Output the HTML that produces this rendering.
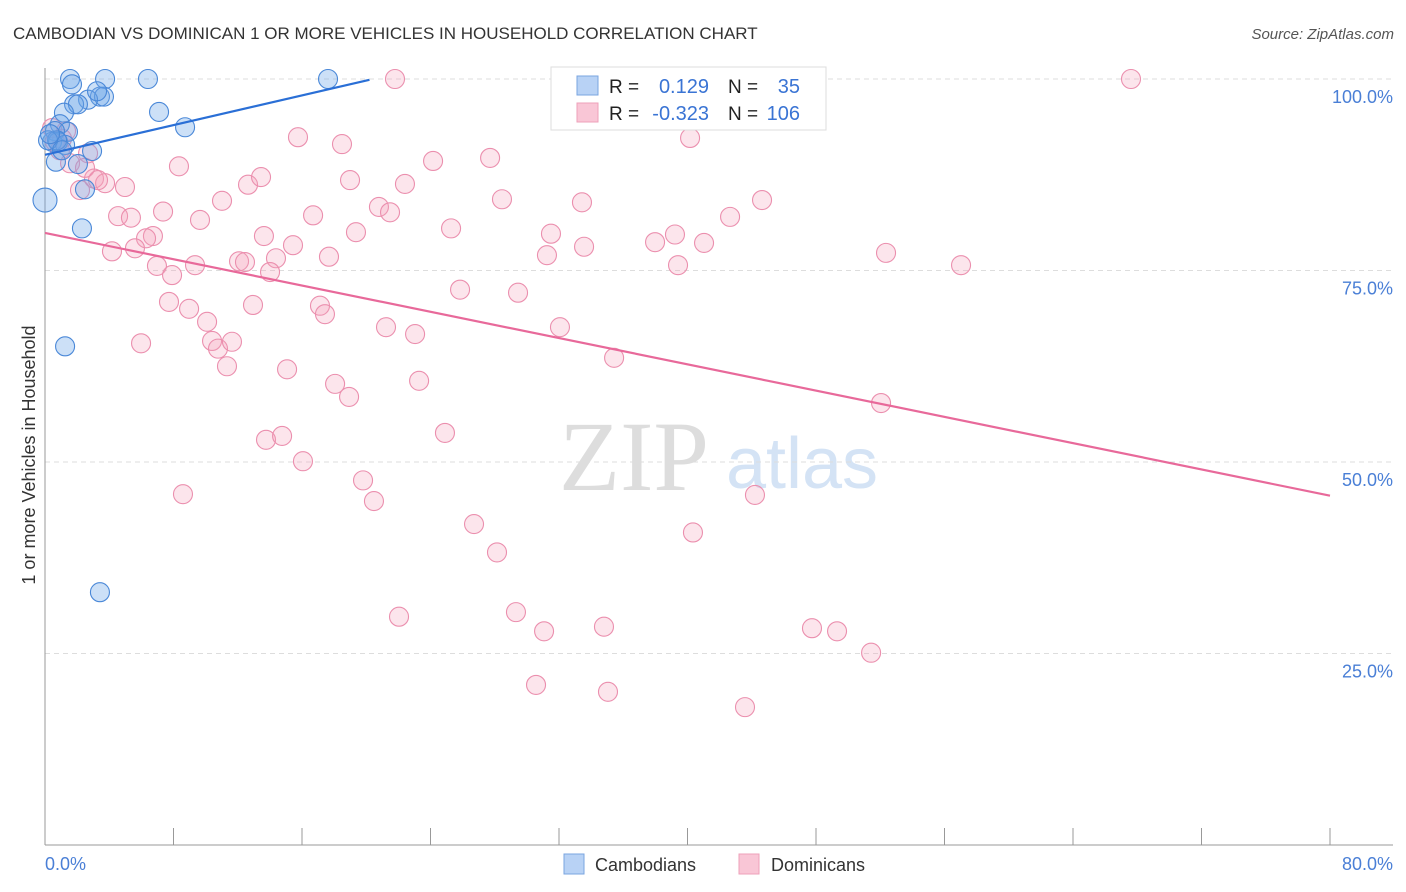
<!DOCTYPE html>
<html><head><meta charset="utf-8"><style>
body{margin:0;background:#fff;font-family:"Liberation Sans",sans-serif;}
#wrap{position:relative;width:1406px;height:892px;overflow:hidden;}
</style></head><body>
<div id="wrap">
<svg id="chart" width="1406" height="892" xmlns="http://www.w3.org/2000/svg">
<text x="13" y="39" font-size="17" fill="#333">CAMBODIAN VS DOMINICAN 1 OR MORE VEHICLES IN HOUSEHOLD CORRELATION CHART</text>
<text x="1394" y="39" font-size="15" fill="#555" font-style="italic" text-anchor="end">Source: ZipAtlas.com</text>
<text x="634" y="490" font-size="100" fill="#ddd" font-family="Liberation Serif,serif" text-anchor="middle">ZIP</text>
<text x="802" y="488" font-size="72" fill="#d4e3f5" text-anchor="middle">atlas</text>
<g id="grid"></g><g id="axes"></g><g id="pts"></g><g id="trend"></g>
<text x="35" y="455" font-size="18" fill="#333" text-anchor="middle" transform="rotate(-90 35 455)">1 or more Vehicles in Household</text>
<text x="45" y="870" font-size="18" fill="#4a7fd6">0.0%</text>
<text x="1393" y="870" font-size="18" fill="#4a7fd6" text-anchor="end">80.0%</text>
<g>
<rect x="551" y="67" width="275" height="63" fill="#fff" stroke="#ddd"/>
<rect x="577" y="76" width="21" height="19" fill="#b8d2f5" stroke="#7aa5e0"/>
<rect x="577" y="103" width="21" height="19" fill="#f9c6d6" stroke="#eea0ba"/>
<text x="609" y="93" font-size="19" fill="#222">R =</text>
<text x="709" y="93" font-size="20" fill="#3a74d4" text-anchor="end">0.129</text>
<text x="728" y="93" font-size="19" fill="#222">N =</text>
<text x="800" y="93" font-size="20" fill="#3a74d4" text-anchor="end">35</text>
<text x="609" y="120" font-size="19" fill="#222">R =</text>
<text x="709" y="120" font-size="20" fill="#3a74d4" text-anchor="end">-0.323</text>
<text x="728" y="120" font-size="19" fill="#222">N =</text>
<text x="800" y="120" font-size="20" fill="#3a74d4" text-anchor="end">106</text>
</g>
<g>
<rect x="564" y="854" width="20" height="20" fill="#b8d2f5" stroke="#7aa5e0"/>
<text x="595" y="871" font-size="18" fill="#333">Cambodians</text>
<rect x="739" y="854" width="20" height="20" fill="#f9c6d6" stroke="#eea0ba"/>
<text x="771" y="871" font-size="18" fill="#333">Dominicans</text>
</g>
</svg>
</div>
<script>
const yTicks=[100,75,50,25];
const yTickLabels=["100.0%","75.0%","50.0%","25.0%"];
const xTicks=[0,8,16,24,32,40,48,56,64,72,80];
const blueX=[0,1.56,1.68,3.74,6.41,17.62,3.42,3.67,2.68,1.81,2.05,3.24,1.18,7.10,8.72,0.93,1.43,0.62,0.44,0.81,1.25,2.93,0.68,2.05,2.49,2.30,1.25,3.42,0.75,0.19,1.06,0.31];
const blueY=[84.2,100,99.3,100,100,100,97.7,97.7,97.3,96.7,96.7,98.4,95.6,95.7,93.7,94.1,93.1,93.2,91.8,91.8,91.4,90.6,89.2,88.9,85.6,80.5,65.1,33.0,92.0,92.0,90.7,92.8];
const pinkX=[21.79,32.50,45.33,67.61,15.75,18.49,40.16,27.71,24.16,8.34,3.05,3.74,4.98,2.18,12.64,13.45,18.99,22.41,11.02,28.45,33.43,44.64,7.35,4.55,5.35,9.65,16.69,20.79,21.48,25.28,31.50,42.65,6.72,6.29,4.17,5.60,13.63,15.44,19.36,33.56,37.98,39.22,41.03,31.25,52.36,6.97,7.91,9.34,12.08,12.45,14.38,14.01,17.68,39.41,57.03,25.84,29.45,7.72,8.97,12.95,17.12,17.43,10.09,21.23,23.04,32.06,5.98,10.40,10.77,11.64,35.43,11.33,15.07,18.06,18.93,23.29,52.05,13.76,14.76,24.90,16.06,19.80,20.48,8.59,44.20,26.71,40.34,28.14,22.04,29.32,31.07,34.80,47.75,49.31,51.43,30.57,35.05,43.58,1.31,0.62,0.93,1.56,0.44,2.68,2.49,3.30,1.06];
const pinkY=[100,100,100,100,92.4,91.5,92.3,89.7,89.3,88.6,87.0,86.4,85.9,85.5,86.2,87.2,86.8,86.3,84.1,84.3,83.9,84.2,82.7,82.1,81.9,81.6,82.2,83.3,82.6,80.5,79.8,82.0,79.5,79.2,77.5,77.9,79.5,78.3,80.0,78.1,78.7,79.7,78.6,77.0,77.3,75.6,74.4,75.7,76.2,76.1,76.6,74.8,76.8,75.7,75.7,72.5,72.1,70.9,70.0,70.5,70.4,69.3,68.3,67.6,66.7,67.6,65.5,65.8,64.8,65.7,63.6,62.5,62.1,60.2,58.5,60.6,57.7,52.9,53.4,53.8,50.1,47.6,44.9,45.8,45.7,41.9,40.8,38.2,29.8,30.4,27.9,28.5,28.3,27.9,25.1,20.9,20.0,18.0,93.2,91.8,90.7,89.0,93.6,90.3,88.4,86.8,92.2];
const blueTrend=[[0,90.1],[20.2,99.9]];
const pinkTrend=[[0,79.9],[80,45.6]];
const NS="http://www.w3.org/2000/svg";
const sx=v=>45+v/80*1285;
const sy=v=>845-v/100*766;
function mk(tag,attrs,parent){const e=document.createElementNS(NS,tag);for(const k in attrs)e.setAttribute(k,attrs[k]);parent.appendChild(e);return e;}
const grid=document.getElementById('grid'),axes=document.getElementById('axes'),pts=document.getElementById('pts'),trend=document.getElementById('trend');
yTicks.forEach((t,i)=>{
 const l=mk('line',{x1:45,x2:1393,y1:sy(t),y2:sy(t),stroke:'#ddd','stroke-dasharray':'5,4'},grid);
 
 
 const tx=mk('text',{x:1393,y:sy(t)+24,'font-size':18,fill:'#4a7fd6','text-anchor':'end'},axes);
 tx.textContent=yTickLabels[i];
 
 
});
const ya=mk('line',{x1:45,x2:45,y1:68,y2:845,stroke:'#999'},axes);


const xa=mk('line',{x1:45,x2:1393,y1:845,y2:845,stroke:'#999'},axes);


xTicks.forEach(t=>{
 const l=mk('line',{x1:sx(t),x2:sx(t),y1:828,y2:845,stroke:'#999'},axes);
 
 
});
pinkX.forEach((x,i)=>{
 const c=mk('circle',{cx:sx(x),cy:sy(pinkY[i]),r:9.5,fill:'rgba(244,160,188,0.28)',stroke:'#eb8fae','stroke-width':1.1},pts);
 
 
});
blueX.forEach((x,i)=>{
 const c=mk('circle',{cx:sx(x),cy:sy(blueY[i]),r:i==0?12:9.5,fill:'rgba(110,165,232,0.35)',stroke:'#4a88d8','stroke-width':1.1},pts);
 
 
});
const bl=mk('line',{x1:sx(blueTrend[0][0]),y1:sy(blueTrend[0][1]),x2:sx(blueTrend[1][0]),y2:sy(blueTrend[1][1]),stroke:'#2a6fd6','stroke-width':2.2},trend);


const pl=mk('line',{x1:sx(pinkTrend[0][0]),y1:sy(pinkTrend[0][1]),x2:sx(pinkTrend[1][0]),y2:sy(pinkTrend[1][1]),stroke:'#e8699a','stroke-width':2.2},trend);


</script>
</body></html>
